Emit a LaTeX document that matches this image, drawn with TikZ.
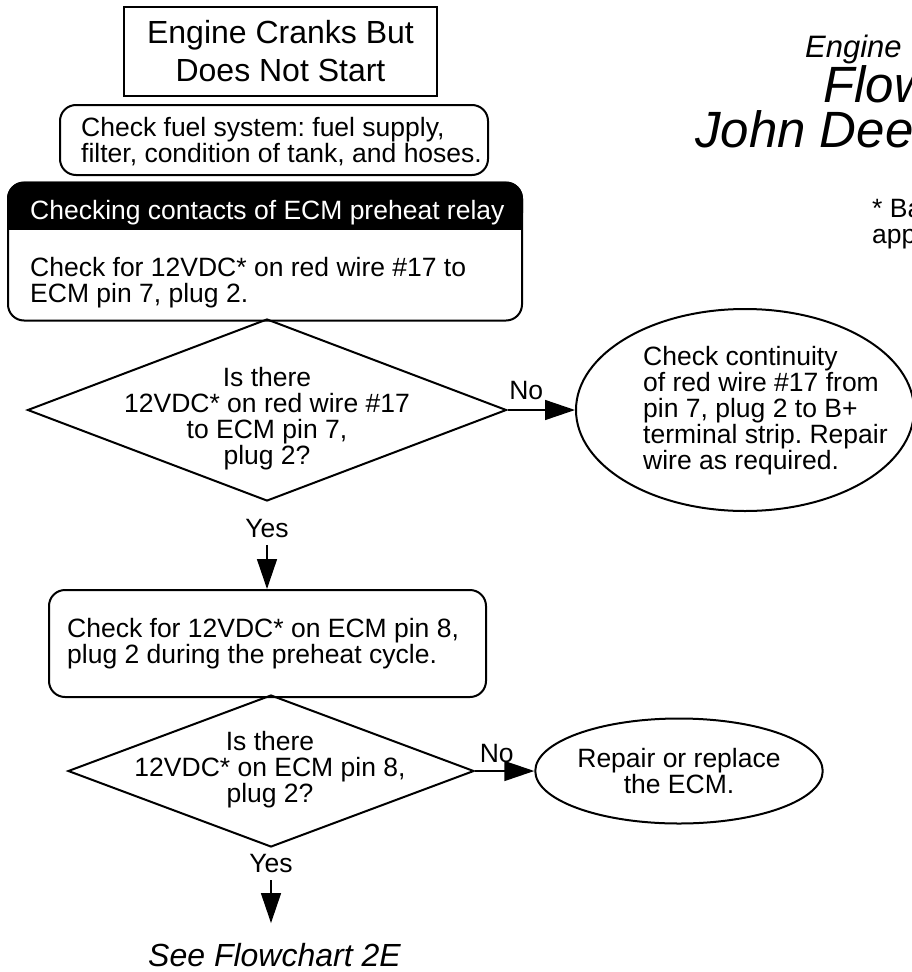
\documentclass[tikz,border=0pt]{standalone}
\usepackage{fontspec}
\setmainfont{Liberation Sans}
\usepackage{tikz}
\usetikzlibrary{shapes.geometric, arrows.meta, positioning, calc}
\frenchspacing

\begin{document}
\begin{tikzpicture}[
    x=1pt, y=-1pt,
    font=\fontsize{26.5}{26}\selectfont,
    txt/.style={inner sep=0pt, align=left, font=\fontsize{26.5}{26}\selectfont},
    titleBox/.style={draw, line width=2pt, minimum width=313pt, minimum height=89pt, inner sep=0pt, align=center, font=\fontsize{32}{38}\selectfont},
    stepBox/.style={draw, line width=2pt, rounded corners=16pt, inner sep=0pt, align=left, font=\fontsize{26.5}{26}\selectfont},
    headBar/.style={fill=black, rounded corners=17pt, minimum width=516pt, minimum height=48pt, inner sep=0pt},
    decision/.style={draw, diamond, line width=2pt, inner sep=0pt},
    endOval/.style={draw, ellipse, line width=2pt, inner sep=0pt, align=center, font=\fontsize{26.5}{26}\selectfont},
    lbl/.style={inner sep=0pt, font=\fontsize{26.5}{26}\selectfont},
    flowArrow/.style={line width=1.5pt, -{Triangle[length=30pt, width=20pt]}},
    headLine/.style={anchor=base west, inner sep=0pt, font=\itshape\fontsize{51}{51}\selectfont}
]

\useasboundingbox (0,0) rectangle (912,972);
\clip (0,0) rectangle (912,972);

% Title
\node[titleBox] (title) at (280.5,51.5) {Engine Cranks But\\Does Not Start};

% Fuel check
\node[stepBox, minimum width=428pt, minimum height=70pt] (fuelChk) at (274,140) {};
\node[txt, anchor=west] (fuelTxt) at (81,142) {Check fuel system: fuel supply,\\filter, condition of tank, and hoses.};

% Relay box with black header
\node[stepBox, minimum width=514pt, minimum height=138pt] (relayBox) at (265,251.5) {};
\node[headBar, anchor=north] (relayHead) at (relayBox.north) {};
\fill (relayHead.west) rectangle (relayHead.south east);
\node[txt, anchor=west, text=white] (relayHdTxt) at (30,213) {Checking contacts of ECM preheat relay};
\node[txt, anchor=west] (relayTxt) at (30,283) {Check for 12VDC* on red wire \#17 to\\ECM pin 7, plug 2.};

% Decision 1
\node[decision, minimum width=479pt, minimum height=182pt] (dec1) at (267,410) {};
\node[txt, align=center] (dec1Txt) at (267,418.5) {Is there\\12VDC* on red wire \#17\\to ECM pin 7,\\plug 2?};

% No branch 1
\node[endOval, minimum width=338pt, minimum height=202pt] (ell1) at (745,410) {};
\node[txt, anchor=west] (ell1Txt) at (643,411) {Check continuity\\of red wire \#17 from\\pin 7, plug 2 to B+\\terminal strip. Repair\\wire as required.};
\draw[flowArrow] (dec1.east) -- node[lbl, anchor=south west, pos=0, xshift=1pt, yshift=9pt] (no1) {No} (ell1.west);

% Yes branch 1
\node[lbl] (yes1) at (267,528.5) {Yes};
\node[stepBox, minimum width=437pt, minimum height=107pt] (chk2) at (267.5,643.5) {};
\node[txt, anchor=west] (chk2Txt) at (67,644) {Check for 12VDC* on ECM pin 8,\\plug 2 during the preheat cycle.};
\draw[flowArrow, shorten <=7pt] (yes1.south) -- (yes1.south |- chk2.north);

% Decision 2
\node[decision, minimum width=406pt, minimum height=152pt] (dec2) at (271,771) {};
\node[txt, align=center] (dec2Txt) at (270,770) {Is there\\12VDC* on ECM pin 8,\\plug 2?};

% No branch 2
\node[endOval, minimum width=253pt, minimum height=105pt] (ell2) at (679,771) {Repair or replace\\the ECM.};
\draw[flowArrow] (dec2.east) -- node[lbl, anchor=south west, pos=0, xshift=4pt, yshift=8pt] (no2) {No} (ell2.west);

% Yes branch 2
\node[lbl] (yes2) at (271,864) {Yes};
\node[lbl, font=\itshape\fontsize{32}{32}\selectfont] (seeFc) at (274.5,955) {See Flowchart 2E};
\draw[flowArrow, shorten <=7pt, shorten >=20pt] (yes2.south) -- (yes2.south |- seeFc.north);

% Heading, cut at the right edge
\node[headLine, font=\itshape\fontsize{31}{31}\selectfont] (hdEngine) at (805,57) {Engine};
\node[headLine] (hdFlow) at (823,102) {Flow};
\node[headLine] (hdMaker) at (695,147) {John Deer};
\node[lbl, anchor=base west] (noteA) at (872,217) {* Ba};
\node[lbl, anchor=base west] (noteB) at (872,243) {app};

\end{tikzpicture}
\end{document}
